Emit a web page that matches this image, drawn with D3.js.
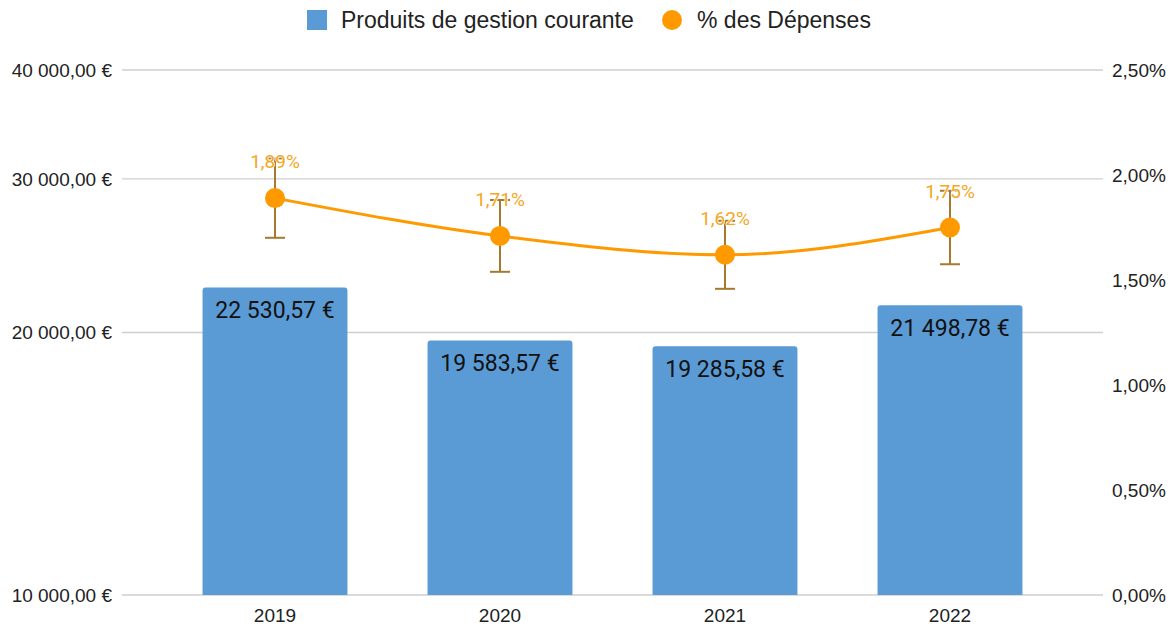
<!DOCTYPE html>
<meta charset="utf-8">
<script src="https://cdn.jsdelivr.net/npm/d3@7"></script>
<style>
body { margin: 0; background: #fff; }
text { font-family: "Liberation Sans", Arial, sans-serif; fill: #222; }
.grid line { stroke: #cfcfcf; stroke-width: 1.3px; }
.barlabel { font-family: Roboto, sans-serif; font-size: 23px; fill: #111; }
.ptlabel { font-family: Roboto, sans-serif; font-size: 19px; fill: #f5a623; stroke: #fff; stroke-width: 1.5px; paint-order: stroke; }
</style>
<body>
<div id="chart"></div>
<script>
// data
var years = ["2019", "2020", "2021", "2022"];
var produits = [22530.57, 19583.57, 19285.58, 21498.78];
var depensesPct = [1.89, 1.71, 1.62, 1.75];
var leftTicks = [10000, 20000, 30000, 40000];
var rightTicks = [0, 0.5, 1, 1.5, 2, 2.5];

var width = 1170, height = 626;
var fr = d3.formatLocale({decimal: ",", thousands: "\u00a0", grouping: [3], currency: ["", " €"]});
var fmtEuro = fr.format(",.2f");
var fmtPct = fr.format(".2f");

var svg = d3.select("#chart").append("svg")
    .attr("width", width)
    .attr("height", height);

var x = d3.scaleBand().domain(years).range([162.5, 1062.5]).paddingInner(0.356).paddingOuter(0.178);
var yL = d3.scaleLog().domain([10000, 40000]).range([595, 70]);
var yR = d3.scaleLinear().domain([0, 2.5]).range([595, 70]);

// grid lines (left axis)
svg.append("g").attr("class", "grid")
  .selectAll("line").data(leftTicks).enter().append("line")
    .attr("x1", 122).attr("x2", 1103)
    .attr("y1", function(d) { return yL(d); })
    .attr("y2", function(d) { return yL(d); });

// left labels
svg.append("g").selectAll("text").data(leftTicks).enter().append("text")
    .attr("x", 112).attr("y", function(d) { return yL(d); })
    .attr("dy", "0.35em").attr("text-anchor", "end")
    .style("font-size", "19px")
    .text(function(d) { return fmtEuro(d) + " €"; });

// right labels
svg.append("g").selectAll("text").data(rightTicks).enter().append("text")
    .attr("x", 1112).attr("y", function(d) { return yR(d); })
    .attr("dy", "0.35em")
    .style("font-size", "19px")
    .text(function(d) { return fmtPct(d) + "%"; });

// x labels
svg.append("g").selectAll("text").data(years).enter().append("text")
    .attr("x", function(d) { return x(d) + x.bandwidth() / 2; })
    .attr("y", 615).attr("dy", "0.35em").attr("text-anchor", "middle")
    .style("font-size", "19px")
    .text(function(d) { return d; });

// bars, rounded top
function barPath(x0, y0, w, y1, r) {
    return "M" + x0 + "," + y1 + "L" + x0 + "," + (y0 + r) +
        "Q" + x0 + "," + y0 + " " + (x0 + r) + "," + y0 +
        "L" + (x0 + w - r) + "," + y0 +
        "Q" + (x0 + w) + "," + y0 + " " + (x0 + w) + "," + (y0 + r) +
        "L" + (x0 + w) + "," + y1 + "Z";
}
var bars = svg.append("g");
bars.selectAll("path").data(produits).enter().append("path")
    .attr("fill", "#5b9bd5")
    .attr("d", function(d, i) { return barPath(x(years[i]), yL(d), x.bandwidth(), 595, 3); });
bars.selectAll("text").data(produits).enter().append("text")
    .attr("class", "barlabel")
    .attr("x", function(d, i) { return x(years[i]) + x.bandwidth() / 2; })
    .attr("y", function(d) { return yL(d) + 31; })
    .attr("text-anchor", "middle")
    .text(function(d) { return fmtEuro(d) + " €"; });

// line
var cx = function(i) { return x(years[i]) + x.bandwidth() / 2; };
var line = d3.line()
    .x(function(d, i) { return cx(i); })
    .y(function(d) { return yR(d); })
    .curve(d3.curveMonotoneX);
svg.append("path").datum(depensesPct)
    .attr("fill", "none").attr("stroke", "#ff9900").attr("stroke-width", 3)
    .attr("d", line);

// error bars (+/- 10%)
var err = svg.append("g").attr("stroke", "#a5792f").attr("stroke-width", 2);
depensesPct.forEach(function(d, i) {
    var lo = yR(d * 0.9), hi = yR(d * 1.1), c = cx(i);
    err.append("line").attr("x1", c).attr("x2", c).attr("y1", hi).attr("y2", lo);
    err.append("line").attr("x1", c - 10).attr("x2", c + 10).attr("y1", hi).attr("y2", hi);
    err.append("line").attr("x1", c - 10).attr("x2", c + 10).attr("y1", lo).attr("y2", lo);
});

svg.append("g").selectAll("circle").data(depensesPct).enter().append("circle")
    .attr("cx", function(d, i) { return cx(i); })
    .attr("cy", function(d) { return yR(d); })
    .attr("r", 10).attr("fill", "#ff9900");

svg.append("g").selectAll("text").data(depensesPct).enter().append("text")
    .attr("class", "ptlabel")
    .attr("x", function(d, i) { return cx(i); })
    .attr("y", function(d) { return yR(d) - 30; })
    .attr("text-anchor", "middle")
    .text(function(d) { return fmtPct(d) + "%"; });

// legend
var lg = svg.append("g");
lg.append("rect").attr("x", 307).attr("y", 10).attr("width", 20).attr("height", 20).attr("fill", "#5b9bd5");
lg.append("text").attr("x", 341).attr("y", 20).attr("dy", "0.35em").style("font-size", "23px").text("Produits de gestion courante");
lg.append("circle").attr("cx", 672).attr("cy", 20).attr("r", 10).attr("fill", "#ff9900");
lg.append("text").attr("x", 697).attr("y", 20).attr("dy", "0.35em").style("font-size", "23px").text("% des Dépenses");
</script>
</body>
